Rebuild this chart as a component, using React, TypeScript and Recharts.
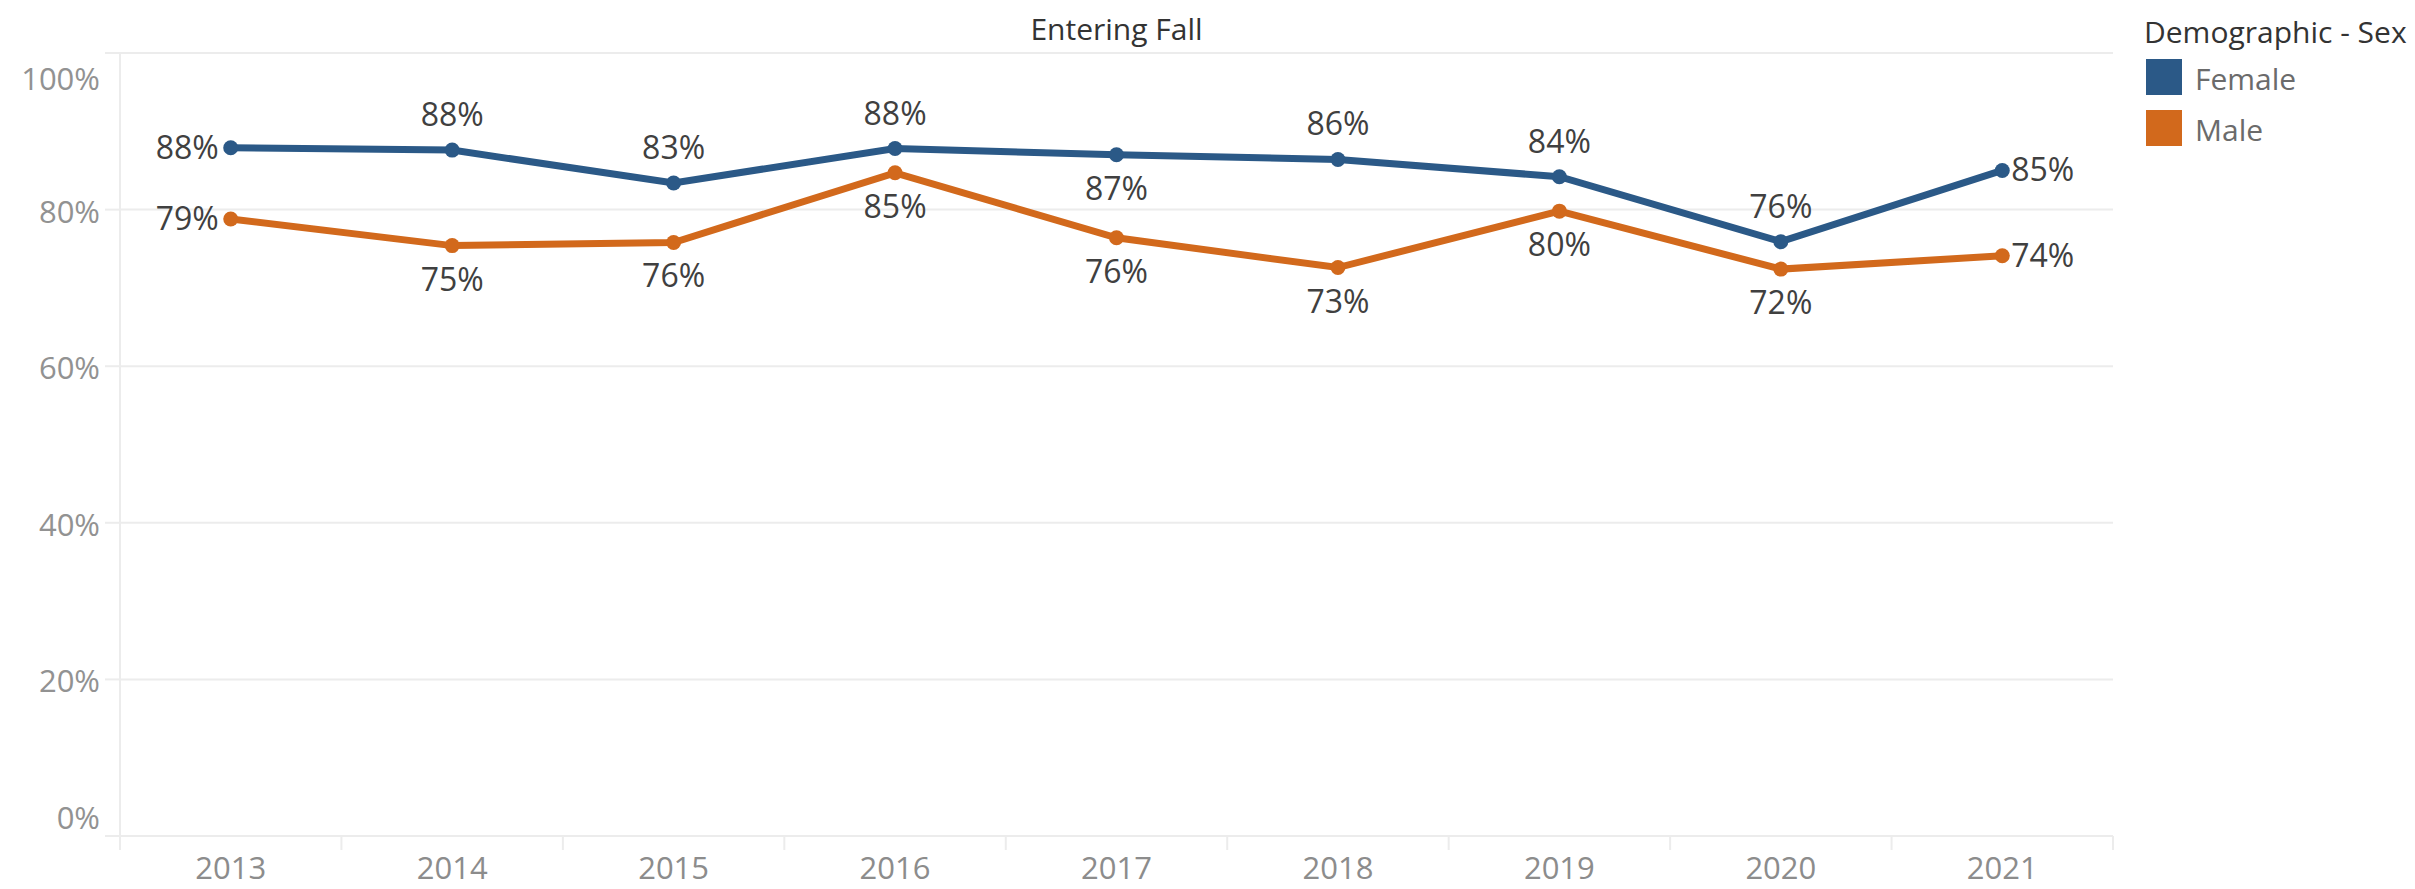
import { LineChart, Line, XAxis, YAxis, CartesianGrid, LabelList } from "recharts";

// Entering Fall retention by sex
const years = ["2013", "2014", "2015", "2016", "2017", "2018", "2019", "2020", "2021"];
const femaleRates = [87.9, 87.6, 83.4, 87.8, 87.0, 86.4, 84.2, 75.9, 85.0];
const maleRates = [78.8, 75.4, 75.8, 84.7, 76.4, 72.6, 79.8, 72.4, 74.1];
const yTicks = [0, 20, 40, 60, 80, 100];

// which side of the mark Tableau put each label on
const femaleLabelSide = ["left", "top", "top", "top", "bottom", "top", "top", "top", "right"];
const maleLabelSide = ["left", "bottom", "bottom", "bottom", "bottom", "bottom", "bottom", "bottom", "right"];

const FONT = '"Open Sans", sans-serif';
const BLUE = "#2b5987";
const ORANGE = "#d2691c";
const GRID = "#ececec";

const WIDTH = 2415;
const HEIGHT = 889;
const PLOT_LEFT = 120;
const PLOT_RIGHT = 2113;
const PLOT_TOP = 53;
const PLOT_BOTTOM = 836;
const HALF_BAND = (PLOT_RIGHT - PLOT_LEFT) / years.length / 2;

const data = years.map((year, i) => ({
  year,
  female: femaleRates[i],
  male: maleRates[i],
}));

function pointLabel(sides: string[]) {
  return (props: any) => {
    const { x, y, value, index } = props;
    const side = sides[index];
    let tx = x;
    let ty = y;
    let anchor = "middle";
    if (side === "top") ty = y - 35;
    else if (side === "bottom") ty = y + 34;
    else if (side === "left") {
      tx = x - 12;
      anchor = "end";
    } else {
      tx = x + 9;
      anchor = "start";
    }
    return (
      <text x={tx} y={ty + 11} textAnchor={anchor} fontSize={32} fill="#404040" fontFamily={FONT}>
        {Math.round(value)}%
      </text>
    );
  };
}

function YTick(props: any) {
  const { x, y, payload } = props;
  const v = payload.value;
  // Tableau pulls the end labels inside the pane
  const shift = v === 100 ? 26 : v === 0 ? -18 : 2;
  return (
    <text x={x} y={y + shift + 11} textAnchor="end" fontSize={31} fill="#929292" fontFamily={FONT}>
      {v}%
    </text>
  );
}

function XTick(props: any) {
  const { x, y, payload, index } = props;
  const isLast = index === years.length - 1;
  return (
    <g>
      <line x1={x - HALF_BAND} x2={x - HALF_BAND} y1={y} y2={y + 14} stroke={GRID} strokeWidth={2} />
      {isLast && (
        <line x1={x + HALF_BAND} x2={x + HALF_BAND} y1={y} y2={y + 14} stroke={GRID} strokeWidth={2} />
      )}
      <text x={x} y={y + 43} textAnchor="middle" fontSize={31} fill="#8c8c8c" fontFamily={FONT}>
        {payload.value}
      </text>
    </g>
  );
}

export default function App() {
  return (
    <div
      style={{
        position: "absolute",
        left: 0,
        top: 0,
        width: WIDTH,
        height: HEIGHT,
        background: "#fff",
        fontFamily: FONT,
      }}
    >
      <LineChart
        width={WIDTH}
        height={HEIGHT}
        data={data}
        margin={{ top: PLOT_TOP, right: WIDTH - PLOT_RIGHT, bottom: 0, left: 0 }}
      >
        <CartesianGrid horizontal vertical={false} stroke={GRID} strokeWidth={2} />
        <XAxis
          dataKey="year"
          height={HEIGHT - PLOT_BOTTOM}
          padding={{ left: HALF_BAND, right: HALF_BAND }}
          axisLine={{ stroke: GRID, strokeWidth: 2 }}
          tickLine={false}
          tickSize={0}
          tickMargin={0}
          tick={<XTick />}
          interval={0}
        />
        <YAxis
          width={PLOT_LEFT}
          domain={[0, 100]}
          ticks={yTicks}
          tickSize={15}
          tickMargin={5}
          axisLine={{ stroke: GRID, strokeWidth: 2 }}
          tickLine={{ stroke: GRID, strokeWidth: 2 }}
          tick={<YTick />}
        />
        <Line
          dataKey="female"
          type="linear"
          stroke={BLUE}
          strokeWidth={7}
          dot={{ r: 7.5, fill: BLUE, stroke: BLUE, strokeWidth: 0 }}
          activeDot={false}
          isAnimationActive={false}
        >
          <LabelList dataKey="female" content={pointLabel(femaleLabelSide)} />
        </Line>
        <Line
          dataKey="male"
          type="linear"
          stroke={ORANGE}
          strokeWidth={7}
          dot={{ r: 7.5, fill: ORANGE, stroke: ORANGE, strokeWidth: 0 }}
          activeDot={false}
          isAnimationActive={false}
        >
          <LabelList dataKey="male" content={pointLabel(maleLabelSide)} />
        </Line>
      </LineChart>

      <svg
        width={WIDTH}
        height={HEIGHT}
        style={{ position: "absolute", left: 0, top: 0, pointerEvents: "none" }}
      >
        <text
          x={(PLOT_LEFT + PLOT_RIGHT) / 2}
          y={40}
          textAnchor="middle"
          fontSize={30}
          fontWeight={500}
          fill="#333"
          fontFamily={FONT}
        >
          Entering Fall
        </text>
        <text x={2144} y={43} fontSize={30} fontWeight={500} fill="#333" fontFamily={FONT}>
          Demographic - Sex
        </text>
        <rect x={2146} y={59} width={36} height={36} fill={BLUE} />
        <text x={2195} y={90} fontSize={30} fill="#6b6b6b" fontFamily={FONT}>
          Female
        </text>
        <rect x={2146} y={110} width={36} height={36} fill={ORANGE} />
        <text x={2195} y={141} fontSize={30} fill="#6b6b6b" fontFamily={FONT}>
          Male
        </text>
      </svg>
    </div>
  );
}
